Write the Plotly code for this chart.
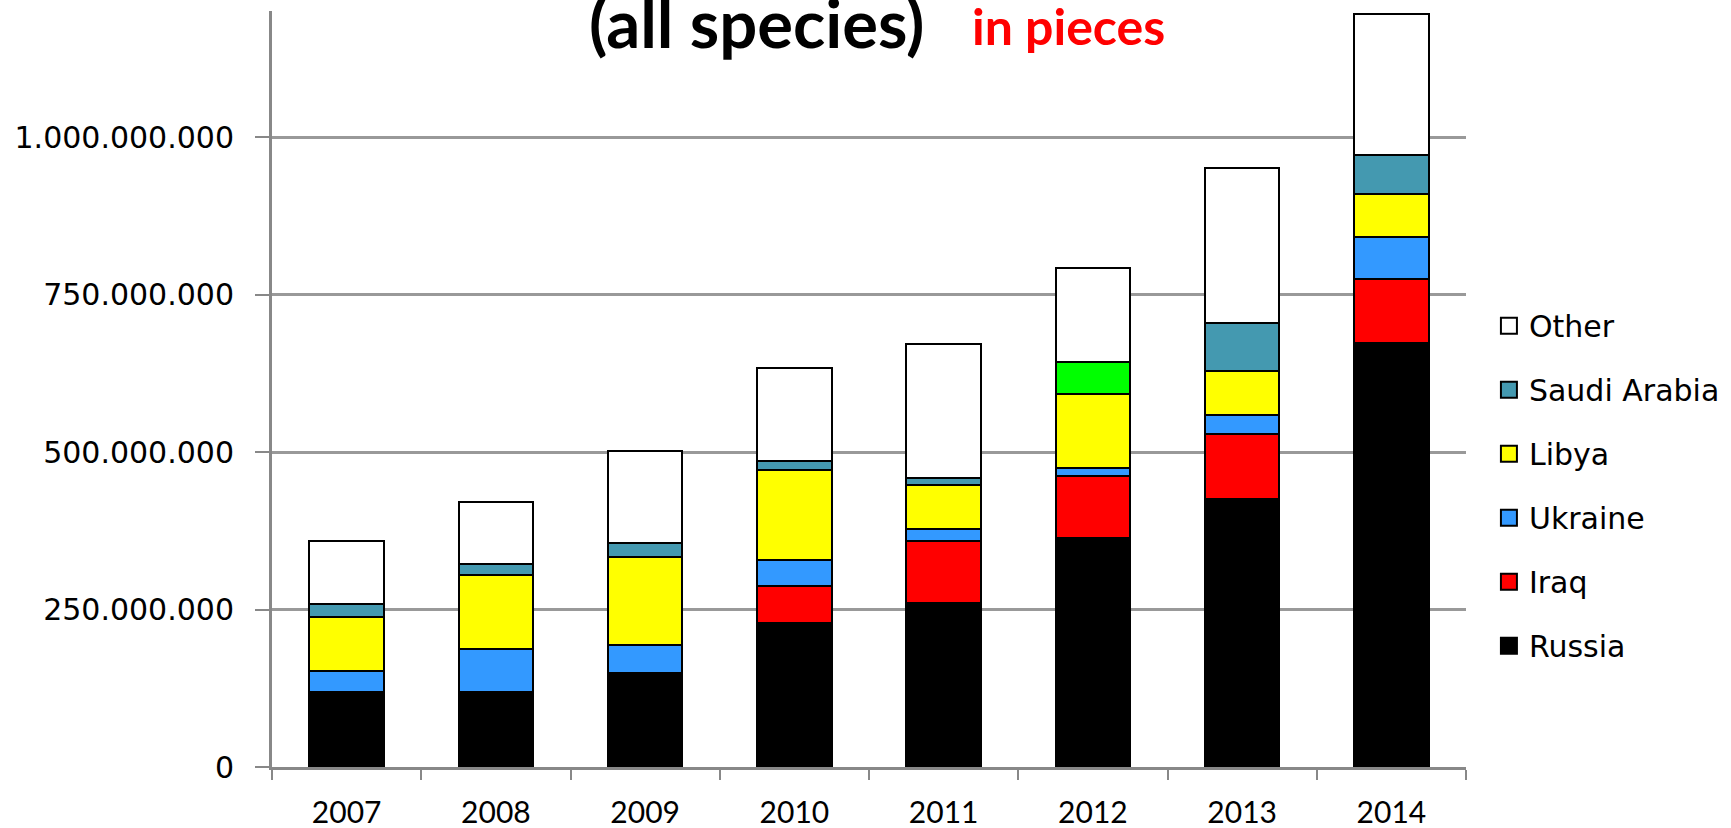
import plotly.graph_objects as go

years = ["2007", "2008", "2009", "2010", "2011", "2012", "2013", "2014"]

russia = [119e6, 119e6, 149e6, 228e6, 261e6, 364e6, 426e6, 673e6]
iraq = [0, 0, 0, 59e6, 98e6, 98e6, 103e6, 101e6]
ukraine = [33e6, 68e6, 44e6, 42e6, 18e6, 13e6, 30e6, 68e6]
libya = [86e6, 118e6, 140e6, 142e6, 71e6, 117e6, 70e6, 67e6]
green_unlabeled = [0, 0, 0, 0, 0, 51e6, 0, 0]
saudi = [21e6, 17e6, 23e6, 14e6, 11e6, 0, 75e6, 63e6]
other = [100e6, 98e6, 145e6, 149e6, 212e6, 149e6, 247e6, 224e6]

y_ticks = [0, 250e6, 500e6, 750e6, 1000e6]
y_tick_labels = ["0", "250.000.000", "500.000.000", "750.000.000", "1.000.000.000"]

series = [
    ("Russia", russia, "#000000", True),
    ("Iraq", iraq, "#FF0000", True),
    ("Ukraine", ukraine, "#3399FF", True),
    ("Libya", libya, "#FFFF00", True),
    ("Unlabeled", green_unlabeled, "#00FF00", False),
    ("Saudi Arabia", saudi, "#4499B0", True),
    ("Other", other, "#FFFFFF", True),
]

fig = go.Figure()
for name, vals, color, show in series:
    fig.add_trace(go.Bar(
        x=years, y=vals, name=name, showlegend=False,
        marker=dict(color=color, line=dict(color="#000000", width=2)),
    ))

# legend entries (top to bottom: Other ... Russia)
for name, vals, color, show in reversed(series):
    if not show:
        continue
    fig.add_trace(go.Scatter(
        x=[years[0]], y=[None], mode="markers", name=name, legendgroup=name,
        showlegend=True, hoverinfo="skip",
        marker=dict(symbol="square", size=16, color=color,
                    line=dict(color="#000000", width=2)),
    ))

fig.update_layout(
    barmode="stack",
    bargap=0.5,
    width=1731, height=828,
    margin=dict(l=272, r=265, t=11, b=61, autoexpand=False),
    paper_bgcolor="white", plot_bgcolor="white",
    showlegend=True,
    legend=dict(
        x=1.0192, y=0.618, xanchor="left", yanchor="top",
        traceorder="grouped", tracegroupgap=22,
        font=dict(family="DejaVu Sans", size=30, color="black"),
        bgcolor="rgba(0,0,0,0)",
    ),
    xaxis=dict(
        type="category", showgrid=False, automargin=False,
        showline=True, linecolor="#888888", linewidth=3,
        ticks="outside", tickson="boundaries", ticklen=10, tickcolor="#888888", tickwidth=2,
        tickfont=dict(family="Liberation Sans Narrow, Lato", size=30, color="black"),
        ticklabelstandoff=17,
    ),
    yaxis=dict(
        range=[0, 1.2e9], automargin=False,
        tickvals=y_ticks, ticktext=y_tick_labels,
        showgrid=True, gridcolor="#999999", gridwidth=2.5,
        showline=True, linecolor="#888888", linewidth=3,
        ticks="outside", ticklen=14, tickcolor="#888888", tickwidth=2,
        tickfont=dict(family="DejaVu Sans", size=30, color="black"),
        ticklabelstandoff=15, zeroline=False,
    ),
    annotations=[
        dict(text="<b>(all species)</b>", xref="paper", yref="paper", x=0.4057, y=0.985,
             xanchor="center", yanchor="middle", showarrow=False,
             font=dict(family="Lato", size=67, color="black")),
        dict(text="<b>in pieces</b>", xref="paper", yref="paper", x=0.6672, y=0.9796,
             xanchor="center", yanchor="middle", showarrow=False,
             font=dict(family="Lato", size=50, color="#FF0000")),
    ],
)

fig.write_html("out.html", config={"displayModeBar": False},
               post_script="document.body.style.margin='0';")
